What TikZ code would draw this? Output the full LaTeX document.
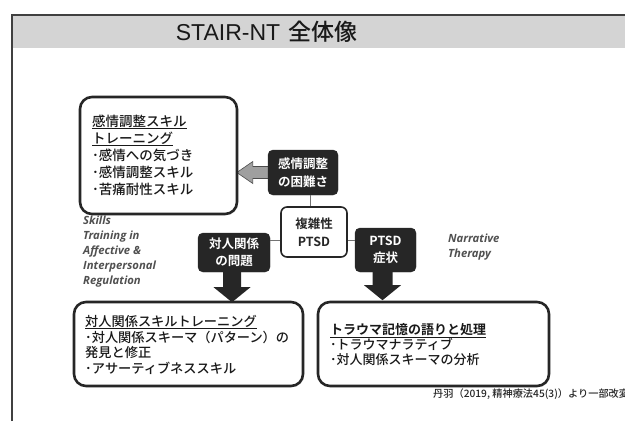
\documentclass[tikz,border=0pt]{standalone}
\usepackage{fontspec}
\setmainfont{Noto Sans CJK JP}[UprightFont={* Medium}, BoldFont={* Bold}]
\newfontfamily\latinsans{Liberation Sans}
\newfontfamily\italsans{Open Sans}
\usetikzlibrary{shadows}
\pgfdeclarelayer{bg}
\pgfsetlayers{bg,main}
\definecolor{darkfill}{HTML}{262626}
\definecolor{barfill}{HTML}{D4D4D4}
\definecolor{labelgray}{HTML}{505050}
\newcommand\ulbox[1]{\setbox0\hbox{#1}\rlap{\rule[-2.3pt]{\wd0}{0.7pt}}\box0}
\tikzset{
  bigbox/.style={draw=black!85, line width=2.6pt, rounded corners=12pt, fill=white,
    drop shadow={shadow xshift=1.2pt, shadow yshift=-1.2pt, opacity=0.35}, inner sep=0pt},
  darkbox/.style={fill=darkfill, draw=darkfill, rounded corners=5pt, text=white,
    font=\bfseries\fontsize{12.5}{17.5}\selectfont, align=center, inner sep=0pt},
  midbox/.style={fill=white, draw=black!85, line width=1.6pt, rounded corners=6pt, text=black!85,
    font=\bfseries\fontsize{12.5}{18}\selectfont, align=center, inner sep=0pt},
  conn/.style={draw=black!55, line width=0.7pt},
  boxtext/.style={align=left, inner sep=0pt, anchor=west, text=black!90},
  engnote/.style={align=left, inner sep=0pt, anchor=north west, text=labelgray,
    font=\italsans\bfseries\itshape\fontsize{11.3}{15}\selectfont},
  blockarrow/.style={fill=darkfill},
  grayarrow/.style={fill=gray!75, draw=black!70, line width=0.6pt}
}
\begin{document}
\begin{tikzpicture}[x=1pt,y=-1pt]
\useasboundingbox (0,0) rectangle (625,423);
% frame and title bar
\fill[barfill] (12,15) rectangle (625,48);
\draw[black!75, line width=1.2pt] (12,421) -- (12,15) -- (625,15);
\node[inner sep=0pt, font=\fontsize{23}{26}\selectfont, text=black!90] (title) at (266.5,32)
  {{\latinsans STAIR-NT}\hspace{8pt}全体像};

% big boxes
\node[bigbox, minimum width=157pt, minimum height=117pt] (b1) at (158.5,155.5) {};
\node[bigbox, minimum width=229pt, minimum height=84pt] (b2) at (188.5,344) {};
\node[bigbox, minimum width=231pt, minimum height=84pt] (b3) at (433.5,344) {};

\node[boxtext, font=\fontsize{13.5}{17}\selectfont] (t1) at (92,155)
  {\ulbox{感情調整スキル}\\\ulbox{トレーニング}\\･感情への気づき\\･感情調整スキル\\･苦痛耐性スキル};
\node[boxtext, font=\fontsize{13.2}{15.5}\selectfont] (t2) at (85,345)
  {\ulbox{対人関係スキルトレーニング}\\･対人関係スキーマ（パターン）の\\発見と修正\\･アサーティブネススキル};
\node[boxtext, font=\fontsize{13}{15}\selectfont] (t3) at (330,345)
  {\ulbox{\textbf{トラウマ記憶の語りと処理}}\\･トラウマナラティブ\\･対人関係スキーマの分析};

% central nodes
\node[darkbox, minimum width=70pt, minimum height=45pt] (d1) at (303,172.5) {感情調整\\の困難さ};
\node[midbox, minimum width=66pt, minimum height=50pt] (c) at (314,232) {複雑性\\PTSD};
\node[darkbox, minimum width=72pt, minimum height=39pt] (d2) at (234,252.5) {対人関係\\の問題};
\node[darkbox, minimum width=61pt, minimum height=44pt] (d3) at (385.5,250) {PTSD\\症状};

% connectors
\draw[conn] ([xshift=-4pt]c.north) -- ([xshift=-4pt]c.north |- d1.south);
\draw[conn] ([yshift=-8pt]c.west) coordinate (cl) -- (cl -| d2.east);
\draw[conn] ([yshift=-8pt]c.east) coordinate (cr) -- (cr -| d3.west);

% gray arrow behind d1
\begin{pgfonlayer}{bg}
\filldraw[grayarrow] (d1.west) ++(2,-6) -- ++(-17,0) -- ++(0,-5) -- ++(-16,11)
  -- ++(16,11) -- ++(0,-5) -- ++(17,0) -- cycle;
\end{pgfonlayer}

% block arrows down
\fill[blockarrow] ([xshift=-2pt]d2.south) ++(-9,0) -- ++(0,15) -- ++(-9.5,0) -- ++(18.5,15)
  -- ++(18.5,-15) -- ++(-9.5,0) -- ++(0,-15) -- cycle;
\fill[blockarrow] ([xshift=-3pt]d3.south) ++(-10,0) -- ++(0,13) -- ++(-8.5,0) -- ++(18.5,15)
  -- ++(18.5,-15) -- ++(-8.5,0) -- ++(0,-13) -- cycle;

% English notes
\node[engnote] (skills) at (83,216) {Skills\\Training in\\Affective \&\\Interpersonal\\Regulation};
\node[engnote] (narr) at (448,234) {Narrative\\Therapy};

% citation
\node[inner sep=0pt, anchor=west, font=\fontsize{10.2}{12}\selectfont, text=black!85] (cite) at (433,394)
  {丹羽（2019, 精神療法45(3)）より一部改変};
\end{tikzpicture}
\end{document}
